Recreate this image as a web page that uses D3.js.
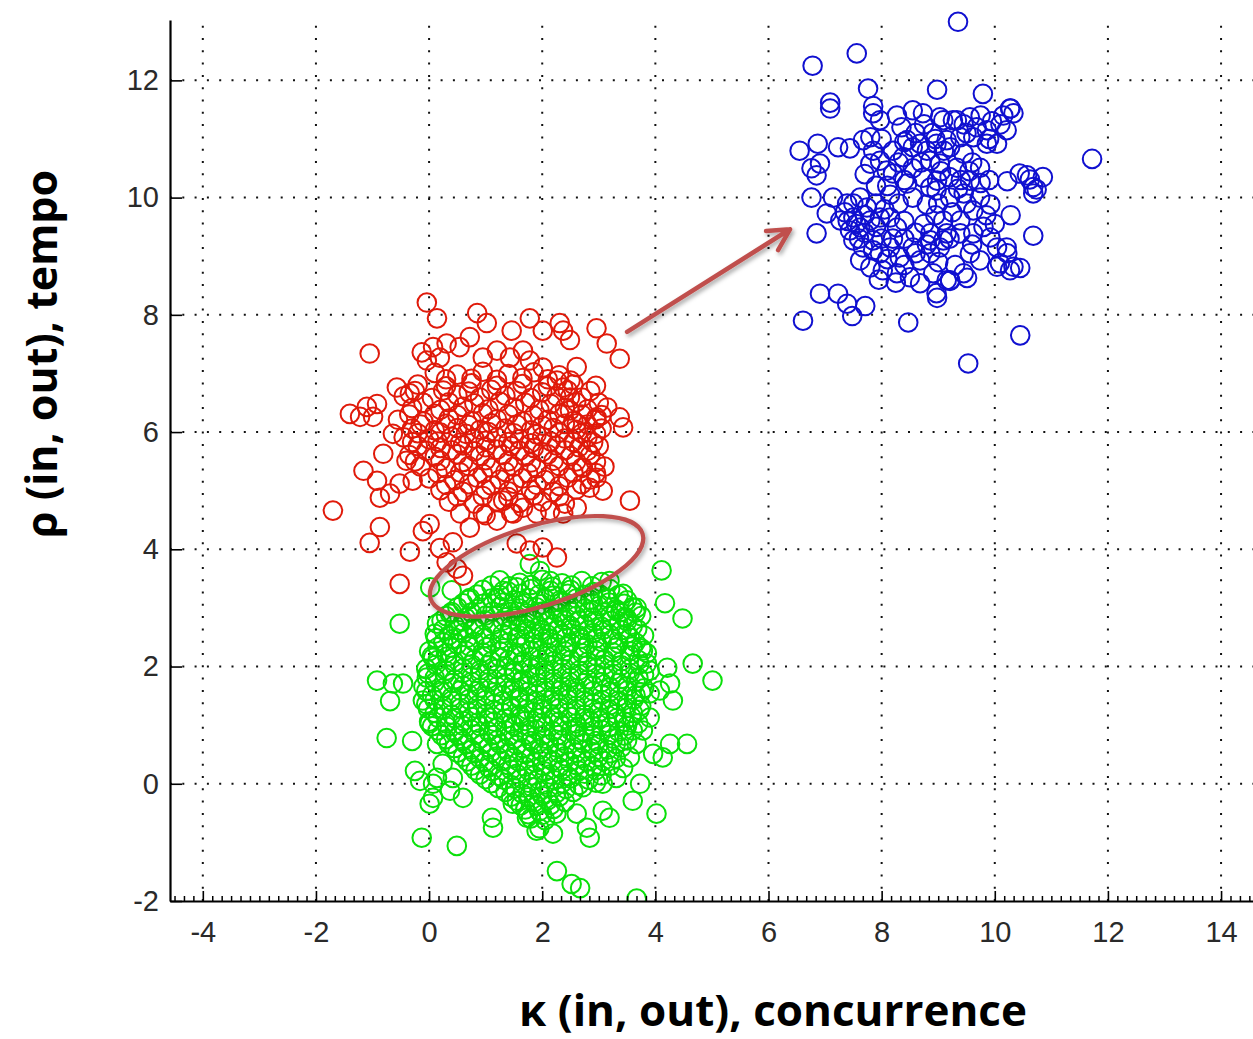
<!DOCTYPE html>
<html><head><meta charset="utf-8">
<script src="https://cdn.jsdelivr.net/npm/d3@7"></script>
<style>html,body{margin:0;padding:0;background:#fff;} svg{display:block;}</style>
</head><body>
<svg id="chart" width="1253" height="1039"></svg>
<script>
const xTicks = [-4,-2,0,2,4,6,8,10,12,14];
const xTickLabels = ["-4","-2","0","2","4","6","8","10","12","14"];
const yTicks = [-2,0,2,4,6,8,10,12];
const yTickLabels = ["-2","0","2","4","6","8","10","12"];
const xTitle = "κ (in, out), concurrence";
const yTitle = "ρ (in, out), tempo";

const greenPoints = [
[1.25,3.47],[1.6,3.43],[2.0,3.48],[2.35,3.42],[2.7,3.46],[3.05,3.44],
[0.95,3.31],[1.4,3.28],[1.8,3.32],[2.15,3.29],[2.5,3.31],[2.9,3.27],[3.2,3.32],
[0.7,3.14],[1.1,3.16],[1.5,3.13],[1.75,3.17],[2.05,3.15],[2.3,3.12],[2.6,3.16],[2.85,3.14],[3.15,3.17],[3.5,3.13],
[0.5,3.01],[0.85,2.98],[1.25,3.02],[1.6,2.99],[1.9,3.01],[2.2,2.97],[2.45,3.02],[2.75,2.99],[3.0,3.03],[3.3,2.98],[3.6,3.01],
[0.3,2.86],[0.65,2.83],[1.0,2.87],[1.35,2.84],[1.55,2.86],[1.8,2.83],[2.05,2.87],[2.35,2.84],[2.6,2.86],[2.9,2.83],[3.2,2.87],[3.45,2.84],[3.75,2.86],
[0.45,2.71],[0.8,2.68],[1.15,2.72],[1.45,2.69],[1.7,2.71],[1.95,2.68],[2.2,2.72],[2.5,2.69],[2.75,2.71],[3.05,2.68],[3.35,2.72],[3.6,2.69],
[0.1,2.56],[0.35,2.53],[0.6,2.57],[0.95,2.54],[1.3,2.56],[1.6,2.53],[1.85,2.57],[2.1,2.54],[2.35,2.56],[2.65,2.53],[2.9,2.57],[3.2,2.54],[3.5,2.56],[3.8,2.53],
[0.25,2.41],[0.5,2.38],[0.8,2.42],[1.1,2.39],[1.4,2.41],[1.7,2.38],[2.0,2.42],[2.25,2.39],[2.5,2.41],[2.8,2.38],[3.05,2.42],[3.35,2.39],[3.65,2.41],
[0.0,2.26],[0.3,2.23],[0.65,2.27],[0.95,2.24],[1.25,2.26],[1.55,2.23],[1.8,2.27],[2.1,2.24],[2.4,2.26],[2.7,2.23],[2.95,2.27],[3.25,2.24],[3.55,2.26],[3.85,2.23],
[0.15,2.11],[0.45,2.08],[0.8,2.12],[1.1,2.09],[1.4,2.11],[1.65,2.08],[1.95,2.12],[2.2,2.09],[2.5,2.11],[2.8,2.08],[3.1,2.12],[3.4,2.09],[3.7,2.11],
[-0.05,1.96],[0.3,1.93],[0.6,1.97],[0.9,1.94],[1.2,1.96],[1.5,1.93],[1.8,1.97],[2.05,1.94],[2.35,1.96],[2.65,1.93],[2.95,1.97],[3.25,1.94],[3.55,1.96],[3.9,1.93],
[0.1,1.81],[0.45,1.78],[0.75,1.82],[1.05,1.79],[1.35,1.81],[1.65,1.78],[1.9,1.82],[2.2,1.79],[2.5,1.81],[2.8,1.78],[3.1,1.82],[3.4,1.79],[3.7,1.81],
[-0.1,1.66],[0.25,1.63],[0.6,1.67],[0.9,1.64],[1.2,1.66],[1.5,1.63],[1.75,1.67],[2.05,1.64],[2.35,1.66],[2.6,1.63],[2.9,1.67],[3.2,1.64],[3.5,1.66],[3.8,1.63],
[0.05,1.51],[0.4,1.48],[0.7,1.52],[1.0,1.49],[1.3,1.51],[1.6,1.48],[1.9,1.52],[2.2,1.49],[2.45,1.51],[2.75,1.48],[3.05,1.52],[3.35,1.49],[3.65,1.51],
[-0.05,1.36],[0.25,1.33],[0.55,1.37],[0.85,1.34],[1.15,1.36],[1.45,1.33],[1.75,1.37],[2.0,1.34],[2.3,1.36],[2.6,1.33],[2.9,1.37],[3.2,1.34],[3.5,1.36],[3.75,1.33],
[0.1,1.21],[0.4,1.18],[0.7,1.22],[1.0,1.19],[1.3,1.21],[1.6,1.18],[1.85,1.22],[2.15,1.19],[2.45,1.21],[2.75,1.18],[3.0,1.22],[3.3,1.19],[3.6,1.21],
[0.0,1.06],[0.3,1.03],[0.6,1.07],[0.85,1.04],[1.15,1.06],[1.45,1.03],[1.7,1.07],[2.0,1.04],[2.3,1.06],[2.6,1.03],[2.85,1.07],[3.15,1.04],[3.45,1.06],[3.7,1.03],
[0.15,0.91],[0.45,0.88],[0.75,0.92],[1.05,0.89],[1.35,0.91],[1.6,0.88],[1.9,0.92],[2.2,0.89],[2.5,0.91],[2.75,0.88],[3.05,0.92],[3.35,0.89],[3.6,0.91],
[0.3,0.76],[0.6,0.73],[0.9,0.77],[1.2,0.74],[1.5,0.76],[1.8,0.73],[2.05,0.77],[2.35,0.74],[2.65,0.76],[2.95,0.73],[3.25,0.77],[3.5,0.74],
[0.45,0.61],[0.75,0.58],[1.05,0.62],[1.35,0.59],[1.65,0.61],[1.95,0.58],[2.25,0.62],[2.55,0.59],[2.85,0.61],[3.15,0.58],[3.4,0.62],
[0.6,0.46],[0.9,0.43],[1.2,0.47],[1.5,0.44],[1.8,0.46],[2.1,0.43],[2.4,0.47],[2.7,0.44],[3.0,0.46],[3.3,0.43],
[0.75,0.31],[1.05,0.28],[1.4,0.32],[1.7,0.29],[2.0,0.31],[2.3,0.28],[2.6,0.32],[2.9,0.29],[3.2,0.31],
[0.9,0.16],[1.25,0.13],[1.55,0.17],[1.85,0.14],[2.15,0.16],[2.45,0.13],[2.75,0.17],[3.05,0.14],
[1.1,0.01],[1.45,-0.02],[1.75,0.02],[2.05,-0.01],[2.35,0.01],[2.65,-0.02],[2.95,0.02],
[1.35,-0.14],[1.65,-0.17],[1.95,-0.13],[2.25,-0.16],[2.55,-0.14],
[1.55,-0.29],[1.85,-0.32],[2.1,-0.28],[2.4,-0.31],
[1.7,-0.44],[1.95,-0.47],[2.2,-0.43],
[1.8,-0.59],[2.05,-0.62],[1.95,-0.76],
[1.1,3.38],[1.42,3.37],[1.8,3.39],[2.18,3.36],[2.52,3.38],[2.88,3.37],
[0.85,3.23],[1.25,3.22],[1.62,3.24],[1.95,3.23],[2.2,3.21],[2.45,3.24],[2.75,3.22],[3.02,3.23],[3.35,3.22],
[0.6,3.08],[0.95,3.07],[1.32,3.09],[1.68,3.08],[1.98,3.06],[2.33,3.09],[2.62,3.07],[2.9,3.08],[3.18,3.09],[3.45,3.07],
[0.4,2.93],[0.75,2.92],[1.12,2.94],[1.45,2.93],[1.72,2.91],[2.0,2.94],[2.28,2.92],[2.52,2.93],[2.82,2.94],[3.1,2.92],[3.38,2.93],[3.65,2.92],
[0.22,2.78],[0.6,2.77],[0.98,2.79],[1.3,2.78],[1.58,2.76],[1.85,2.79],[2.12,2.77],[2.4,2.78],[2.65,2.79],[2.92,2.77],[3.22,2.78],[3.5,2.77],
[0.25,2.63],[0.52,2.62],[0.8,2.64],[1.12,2.63],[1.42,2.61],[1.72,2.64],[1.98,2.62],[2.28,2.63],[2.52,2.64],[2.8,2.62],[3.08,2.63],[3.4,2.62],[3.68,2.64],
[0.12,2.48],[0.42,2.47],[0.68,2.49],[0.98,2.48],[1.25,2.46],[1.55,2.49],[1.85,2.47],[2.12,2.48],[2.42,2.49],[2.68,2.47],[2.95,2.48],[3.25,2.47],[3.55,2.49],
[0.15,2.33],[0.4,2.32],[0.72,2.34],[1.02,2.33],[1.32,2.31],[1.62,2.34],[1.92,2.32],[2.18,2.33],[2.45,2.34],[2.75,2.32],[3.0,2.33],[3.3,2.32],[3.6,2.34],[3.75,2.31],
[0.05,2.18],[0.32,2.17],[0.62,2.19],[0.95,2.18],[1.25,2.16],[1.52,2.19],[1.8,2.17],[2.08,2.18],[2.35,2.19],[2.65,2.17],[2.95,2.18],[3.25,2.17],[3.55,2.19],
[0.12,2.03],[0.45,2.02],[0.75,2.04],[1.05,2.03],[1.35,2.01],[1.65,2.04],[1.92,2.02],[2.2,2.03],[2.5,2.04],[2.8,2.02],[3.1,2.03],[3.4,2.02],[3.72,2.04],
[-0.02,1.88],[0.28,1.87],[0.6,1.89],[0.9,1.88],[1.2,1.86],[1.5,1.89],[1.78,1.87],[2.05,1.88],[2.35,1.89],[2.65,1.87],[2.95,1.88],[3.25,1.87],[3.55,1.89],[3.8,1.86],
[0.1,1.73],[0.42,1.72],[0.75,1.74],[1.05,1.73],[1.35,1.71],[1.62,1.74],[1.92,1.72],[2.2,1.73],[2.48,1.74],[2.75,1.72],[3.05,1.73],[3.35,1.72],[3.65,1.74],
[-0.05,1.58],[0.22,1.57],[0.55,1.59],[0.85,1.58],[1.15,1.56],[1.45,1.59],[1.75,1.57],[2.05,1.58],[2.32,1.59],[2.6,1.57],[2.9,1.58],[3.2,1.57],[3.5,1.59],[3.75,1.56],
[0.1,1.43],[0.4,1.42],[0.7,1.44],[1.0,1.43],[1.3,1.41],[1.6,1.44],[1.88,1.42],[2.15,1.43],[2.45,1.44],[2.75,1.42],[3.05,1.43],[3.35,1.42],[3.62,1.44],
[-0.02,1.28],[0.25,1.27],[0.55,1.29],[0.85,1.28],[1.15,1.26],[1.45,1.29],[1.72,1.27],[2.0,1.28],[2.3,1.29],[2.6,1.27],[2.9,1.28],[3.18,1.27],[3.48,1.29],[3.72,1.26],
[0.15,1.13],[0.45,1.12],[0.75,1.14],[1.05,1.13],[1.35,1.11],[1.62,1.14],[1.9,1.12],[2.2,1.13],[2.5,1.14],[2.75,1.12],[3.02,1.13],[3.32,1.12],[3.58,1.14],
[0.05,0.98],[0.32,0.97],[0.6,0.99],[0.9,0.98],[1.2,0.96],[1.5,0.99],[1.78,0.97],[2.05,0.98],[2.35,0.99],[2.62,0.97],[2.9,0.98],[3.2,0.97],[3.5,0.99],
[0.22,0.83],[0.52,0.82],[0.82,0.84],[1.12,0.83],[1.42,0.81],[1.72,0.84],[2.0,0.82],[2.28,0.83],[2.58,0.84],[2.88,0.82],[3.18,0.83],[3.45,0.82],
[0.35,0.68],[0.65,0.67],[0.95,0.69],[1.25,0.68],[1.55,0.66],[1.85,0.69],[2.12,0.67],[2.42,0.68],[2.72,0.69],[3.0,0.67],[3.3,0.68],
[0.5,0.53],[0.8,0.52],[1.1,0.54],[1.4,0.53],[1.7,0.51],[2.0,0.54],[2.3,0.52],[2.6,0.53],[2.9,0.54],[3.2,0.52],
[0.68,0.38],[0.98,0.37],[1.28,0.39],[1.58,0.38],[1.88,0.36],[2.18,0.39],[2.48,0.37],[2.78,0.38],[3.08,0.39],
[0.82,0.23],[1.12,0.22],[1.45,0.24],[1.75,0.23],[2.05,0.21],[2.35,0.24],[2.65,0.22],[2.95,0.23],
[1.0,0.08],[1.32,0.07],[1.62,0.09],[1.92,0.08],[2.22,0.06],[2.5,0.09],[2.82,0.07],
[1.22,-0.07],[1.52,-0.08],[1.82,-0.06],[2.12,-0.07],[2.42,-0.09],[2.72,-0.06],
[1.45,-0.22],[1.75,-0.23],[2.0,-0.21],[2.3,-0.22],
[1.62,-0.37],[1.9,-0.38],[2.15,-0.36],
[1.75,-0.52],[2.0,-0.53],[2.25,-0.51],
[4.11,3.64],[4.17,3.08],[4.48,2.82],[-0.52,2.73],[-0.92,1.76],[-0.64,1.71],[-0.46,1.71],[-0.69,1.41],[4.66,2.05],[5.01,1.76],
[4.21,1.98],[4.26,1.71],[4.31,1.42],[4.08,1.59],[3.90,1.54],[-0.75,0.78],[-0.30,0.73],[4.56,0.68],[4.26,0.68],[4.13,0.45],
[3.96,0.51],[-0.25,0.22],[-0.16,0.05],[0.01,-0.34],[0.07,-0.24],[4.02,-0.51],[-0.13,-0.92],[0.49,-1.06],[1.11,-0.58],[1.13,-0.75],
[1.48,-0.34],[1.73,-0.58],[1.90,-0.80],[2.19,-0.85],[2.26,-1.49],[2.52,-1.71],[2.67,-1.78],[3.67,-1.96],[2.61,-0.51],[2.79,-0.75],
[2.84,-0.92],[3.07,-0.46],[3.19,-0.58],[3.60,-0.29],[3.73,0.0],[0.60,-0.24],[0.37,-0.12],[0.07,0.0],[0.14,0.10],[1.31,3.29],
[1.55,3.35],[1.20,3.17],[0.72,3.17],[3.19,3.46],[3.43,3.24],[3.67,3.0],[3.49,2.83],[3.31,2.95],[1.78,3.75],[1.96,3.63],
[2.14,3.46],[0.37,2.90],[0.14,2.73],[0.07,2.15],[-0.04,1.81],[-0.11,1.42],[0.01,1.03],[0.14,0.68],[0.24,0.34],[0.42,0.10],
[3.78,2.27],[3.85,2.05],[3.90,1.13],[3.78,0.91],[3.67,0.68],[3.55,0.45],[3.31,0.10],[3.07,0.0],[3.43,0.27],[0.02,3.35],[0.4,3.3]
];

const redPoints = [
[0.1,7.01],[0.5,6.98],[0.95,7.03],[1.4,6.99],[1.85,7.02],[2.3,6.97],
[-0.2,6.81],[0.3,6.78],[0.75,6.83],[1.2,6.79],[1.65,6.82],[2.1,6.78],[2.55,6.81],[2.95,6.79],
[-0.45,6.61],[0.05,6.58],[0.5,6.63],[0.9,6.59],[1.35,6.62],[1.8,6.58],[2.25,6.61],[2.7,6.59],
[-0.3,6.41],[0.2,6.38],[0.6,6.43],[1.05,6.39],[1.5,6.42],[1.95,6.38],[2.4,6.41],[2.8,6.39],[3.15,6.42],
[-0.55,6.21],[-0.1,6.18],[0.35,6.23],[0.75,6.19],[1.2,6.22],[1.65,6.18],[2.1,6.21],[2.55,6.19],[2.95,6.22],
[-0.3,6.06],[0.1,6.03],[0.5,6.07],[0.9,6.04],[1.35,6.06],[1.8,6.03],[2.2,6.07],[2.6,6.04],[3.05,6.06],
[-0.45,5.91],[0.0,5.88],[0.4,5.92],[0.8,5.89],[1.2,5.91],[1.6,5.88],[2.0,5.92],[2.4,5.89],[2.8,5.91],
[-0.2,5.76],[0.2,5.73],[0.6,5.77],[1.0,5.74],[1.45,5.76],[1.85,5.73],[2.25,5.77],[2.65,5.74],[3.0,5.76],
[-0.35,5.61],[0.1,5.58],[0.5,5.62],[0.9,5.59],[1.3,5.61],[1.7,5.58],[2.1,5.62],[2.5,5.59],[2.85,5.61],
[-0.15,5.41],[0.3,5.38],[0.7,5.42],[1.1,5.39],[1.5,5.41],[1.9,5.38],[2.3,5.42],[2.7,5.39],[3.1,5.41],
[0.0,5.21],[0.45,5.18],[0.85,5.22],[1.25,5.19],[1.65,5.21],[2.05,5.18],[2.45,5.22],[2.85,5.19],
[0.2,5.01],[0.6,4.98],[1.0,5.02],[1.4,4.99],[1.8,5.01],[2.2,4.98],[2.6,5.02],
[0.35,4.81],[0.8,4.78],[1.2,4.82],[1.6,4.79],[2.0,4.81],[2.4,4.78],
[0.55,4.61],[1.0,4.58],[1.45,4.62],
[0.3,6.9],[0.75,6.91],[1.2,6.89],[1.65,6.92],[2.1,6.9],[2.5,6.88],
[-0.25,6.7],[0.25,6.71],[0.7,6.69],[1.1,6.72],[1.55,6.7],[2.0,6.68],[2.45,6.71],[2.85,6.7],
[-0.1,6.5],[0.35,6.51],[0.8,6.49],[1.25,6.52],[1.7,6.5],[2.15,6.48],[2.6,6.51],[3.0,6.5],
[-0.35,6.3],[0.1,6.31],[0.5,6.29],[0.95,6.32],[1.4,6.3],[1.85,6.28],[2.3,6.31],[2.7,6.3],[3.05,6.29],
[-0.15,6.13],[0.3,6.14],[0.7,6.12],[1.1,6.15],[1.55,6.13],[2.0,6.11],[2.4,6.14],[2.8,6.13],
[-0.2,5.98],[0.2,5.99],[0.65,5.97],[1.05,6.0],[1.5,5.98],[1.9,5.96],[2.3,5.99],[2.7,5.98],[2.95,5.97],
[-0.3,5.83],[0.15,5.84],[0.55,5.82],[1.0,5.85],[1.4,5.83],[1.8,5.81],[2.15,5.84],[2.55,5.83],[2.9,5.82],
[-0.05,5.68],[0.4,5.69],[0.8,5.67],[1.2,5.7],[1.6,5.68],[2.0,5.66],[2.4,5.69],[2.8,5.68],
[-0.25,5.5],[0.2,5.51],[0.6,5.49],[1.0,5.52],[1.4,5.5],[1.8,5.48],[2.2,5.51],[2.6,5.5],[2.95,5.49],
[0.15,5.3],[0.55,5.31],[0.95,5.29],[1.35,5.32],[1.75,5.3],[2.15,5.28],[2.55,5.31],[2.95,5.3],
[0.3,5.1],[0.7,5.11],[1.1,5.09],[1.5,5.12],[1.9,5.1],[2.3,5.08],[2.7,5.11],
[0.5,4.9],[0.95,4.91],[1.4,4.89],[1.85,4.92],[2.3,4.9],
[-0.04,8.21],[0.14,7.94],[-1.05,7.34],[0.85,8.03],[1.02,7.86],[1.46,7.73],[1.78,7.94],[2.01,7.73],[2.31,7.86],[2.49,7.57],
[2.37,7.73],[2.96,7.77],[3.14,7.51],[3.37,7.25],[2.61,7.11],[-0.13,7.36],[0.07,7.45],[0.31,7.51],[0.54,7.45],[0.72,7.62],
[-0.04,7.22],[0.19,7.27],[0.95,7.27],[1.20,7.39],[1.43,7.27],[1.66,7.39],[1.78,7.22],[2.01,7.10],[2.26,6.88],[2.37,6.76],
[2.49,6.59],[-0.57,6.76],[-0.34,6.66],[-1.40,6.31],[-1.10,6.43],[-0.92,6.48],[-0.99,6.26],[-1.22,6.26],[2.96,6.25],[3.37,6.25],
[3.43,6.08],[2.49,6.37],[2.61,6.15],[-0.81,5.63],[-1.16,5.34],[-0.92,5.17],[-0.69,4.95],[-0.87,4.88],[-0.29,5.17],[-0.52,5.12],
[-0.40,5.51],[-0.64,5.97],[-1.70,4.66],[-0.87,4.38],[-1.05,4.11],[-0.52,3.41],[-0.34,3.96],[-0.11,4.31],[0.01,4.43],[0.19,4.02],
[0.42,4.12],[0.31,3.78],[0.49,3.67],[0.60,3.55],[0.72,4.37],[0.95,4.61],[1.20,4.49],[1.31,4.83],[1.49,4.61],[1.66,4.71],
[1.90,4.61],[2.14,4.66],[2.37,4.61],[2.61,4.71],[2.84,5.05],[2.96,5.22],[2.72,5.39],[3.55,4.83],[1.55,4.10],[1.78,3.98],
[2.01,4.03],[2.26,3.86],[3.07,5.0]
];

const bluePoints = [
[9.35,13.0],[7.56,12.46],[6.78,12.25],[7.76,11.86],[8.98,11.84],[9.79,11.77],[7.09,11.62],[7.09,11.52],[7.85,11.56],[10.28,11.52],
[6.55,10.80],[6.87,10.92],[7.23,10.86],[6.76,10.50],[6.91,10.58],[11.72,10.66],[10.22,10.28],[10.57,10.38],[10.85,10.35],[10.68,10.18],
[6.76,10.0],[6.85,9.39],[10.28,9.70],[10.68,9.35],[10.22,9.05],[10.33,8.82],[10.45,8.80],[10.04,8.82],
[6.91,8.36],[7.23,8.36],[7.39,8.19],[7.71,8.15],[7.48,7.98],[6.61,7.90],[8.47,7.87],[10.45,7.65],[9.53,7.17],[8.98,8.29],[9.21,8.58],[9.51,8.63],
[7.85,11.44],[7.97,11.32],[8.27,11.40],[8.55,11.49],[8.73,11.44],[9.03,11.37],[9.26,11.32],
[7.44,10.84],[7.67,10.98],[6.85,10.38],
[7.80,11.03],[7.85,10.80],[7.97,10.63],[7.80,10.58],[8.09,10.46],
[8.45,10.98],[8.55,10.86],[8.68,10.92],[8.80,10.80],[8.38,10.69],[8.86,10.63],[9.15,10.98],
[8.20,10.41],[8.45,10.24],[8.73,10.34],[8.86,10.17],[8.98,10.29],[8.55,10.0],[8.80,9.88],
[7.14,10.0],[7.03,9.73],[7.39,9.90],[7.50,9.66],[7.62,10.0],[7.74,9.83],
[7.27,9.61],[7.44,9.44],[7.62,9.49],[7.80,9.61],[7.97,9.66],[8.15,9.66],[8.27,9.49],
[7.50,9.27],[7.67,9.15],[7.85,9.27],[7.97,9.05],[8.15,9.15],[8.32,8.98],[8.55,9.15],[8.68,8.93],[8.86,9.27],[9.03,9.15],[9.15,9.39],
[7.62,8.93],[7.80,8.81],[8.02,8.76],[8.27,8.71],[8.50,8.64],[8.68,8.54],[8.91,8.71],[9.15,8.59],
[10.27,11.52],[10.15,11.40],[10.33,11.44],
[9.09,11.32],[9.33,11.32],[9.56,11.37],[9.68,11.20],[9.86,11.15],[9.62,11.03],[10.04,10.92],[10.21,11.15],[9.86,10.92],[9.39,11.03],
[8.97,10.92],[9.21,10.86],[9.45,10.75],
[10.44,10.41],[10.62,10.31],[10.74,10.14],[10.68,10.07],
[9.03,10.58],[9.33,10.51],[9.74,10.51],[9.56,10.29],[9.45,10.07],[9.74,10.0],[9.92,9.88],[9.62,9.78],[9.21,10.0],[8.97,10.12],[9.09,9.61],[9.39,9.61],
[8.86,9.39],[9.09,9.27],[9.39,9.39],[9.62,9.39],[9.92,9.32],[10.04,9.15],[9.56,9.05],[9.74,8.93],[9.45,8.71],[9.21,8.59],[8.97,8.37],[8.86,9.05],
[10.21,9.15],[10.09,8.88],[10.27,8.76],
[8.3,9.9],[8.4,9.6],[8.1,10.2],[9.0,9.9],[9.2,9.3],[9.4,10.3],[8.6,9.4],[8.0,9.3],[7.7,9.4],[7.5,9.9],[7.4,9.6],[7.9,9.9],[8.2,9.3],
[8.8,9.2],[9.6,10.6],[9.9,10.3],[9.8,9.5],[9.6,9.2],[8.7,10.6],[8.4,10.3],[9.1,10.8],[9.5,11.1],[9.9,11.0],[8.9,11.1],[8.2,10.8],[8.0,11.0],
[7.35,9.75],[7.55,9.55],[7.7,9.7],[7.9,9.5],[8.05,9.8],[7.6,9.3],[7.85,9.1],[8.1,8.95],[8.4,9.3],[8.6,9.05],
[8.4,8.85],[8.75,9.55],[8.95,9.7],[9.25,9.75],[9.5,9.9],[9.35,10.15],[9.55,10.45],[9.75,10.25],[9.2,10.35],[9.05,10.45],
[8.4,10.95],[8.6,11.1],[8.75,11.25],[8.35,11.2],[8.95,11.0],[9.75,11.4],[9.95,11.3],[10.1,11.25],[9.45,11.25],[8.15,10.05],
[8.3,10.6],[8.55,10.5],[7.9,10.2],[7.7,10.4],[9.85,9.7],[10.0,9.55],[9.3,8.85],[9.0,8.9],[7.95,8.6],[8.25,8.55]
];

const arrowFrom = [3.5, 7.71];
const arrowTo = [6.38, 9.46];
const ellipseCenter = [1.90, 3.71];
const ellipseRadii = [1.96, 0.71];   // in x-units
const ellipseAngle = -17;

const W = 1253, H = 1039;
const x = d3.scaleLinear().domain([-4.58, 14.6]).range([170, 1255]);
const y = d3.scaleLinear().domain([-2, 13.03]).range([901, 20]);

const svg = d3.select("#chart");
const defs = svg.append("defs");
defs.append("clipPath").attr("id", "plot").append("rect")
  .attr("x", 170).attr("y", 0).attr("width", W - 170).attr("height", 901);
const f = defs.append("filter").attr("id", "shadow")
  .attr("x", "-20%").attr("y", "-20%").attr("width", "140%").attr("height", "140%");
f.append("feDropShadow").attr("dx", 2).attr("dy", 2.5).attr("stdDeviation", 2)
  .attr("flood-color", "#000").attr("flood-opacity", 0.35);

// grid
const grid = svg.append("g").attr("clip-path", "url(#plot)")
  .attr("stroke", "#111").attr("stroke-width", 2).attr("stroke-dasharray", "2,10.3");
grid.selectAll("line.v").data(xTicks).join("line").attr("class", "v")
  .attr("x1", d => x(d)).attr("x2", d => x(d)).attr("y1", y(-2)).attr("y2", y(13.03));
grid.selectAll("line.h").data(yTicks.slice(1)).join("line").attr("class", "h")
  .attr("y1", d => y(d)).attr("y2", d => y(d)).attr("x1", x(-4.58)).attr("x2", x(14.6));

// points
const pts = svg.append("g").attr("clip-path", "url(#plot)").attr("fill", "none");
const series = [
  {data: greenPoints, color: "#0ae00a"},
  {data: redPoints, color: "#e01a0a"},
  {data: bluePoints, color: "#1010d0"}
];
series.forEach(s => {
  pts.append("g").attr("stroke", s.color).attr("stroke-width", 2)
    .selectAll("circle").data(s.data).join("circle")
    .attr("cx", d => x(d[0])).attr("cy", d => y(d[1])).attr("r", 9.3);
});

// axes
const minorTicks = d3.range(-27, 88).filter(i => i % 12 !== 0).map(i => i / 6);
const xMinor = svg.append("g").attr("transform", `translate(0,${y(-2)})`)
  .call(d3.axisBottom(x).tickValues(minorTicks).tickSizeInner(-5).tickSizeOuter(0).tickFormat(""));
xMinor.select(".domain").remove();
xMinor.selectAll("line").attr("stroke", "#000").attr("stroke-width", 1.5);

const xAxis = svg.append("g").attr("transform", `translate(0,${y(-2)})`)
  .call(d3.axisBottom(x).tickValues(xTicks).tickFormat((d, i) => xTickLabels[i])
    .tickSizeInner(-10).tickSizeOuter(0).tickPadding(20));
const yAxis = svg.append("g").attr("transform", `translate(${x(-4.58)},0)`)
  .call(d3.axisLeft(y).tickValues(yTicks).tickFormat((d, i) => yTickLabels[i])
    .tickSizeInner(-12).tickSizeOuter(0).tickPadding(11));
[xAxis, yAxis].forEach(a => {
  a.select(".domain").attr("stroke", "#000").attr("stroke-width", 2.2);
  a.selectAll(".tick line").attr("stroke", "#000").attr("stroke-width", 1.6);
  a.selectAll(".tick text").attr("fill", "#2a2a2a")
    .style("font-family", "'Liberation Sans', Arial, sans-serif").style("font-size", "29px");
});

// titles
svg.append("text").attr("x", 773).attr("y", 1026).attr("text-anchor", "middle")
  .attr("textLength", 508).attr("lengthAdjust", "spacingAndGlyphs")
  .style("font-family", "'Open Sans', sans-serif").style("font-weight", 700).style("font-size", "43px")
  .attr("fill", "#000").text(xTitle);
svg.append("text").attr("transform", "translate(57,354) rotate(-90)").attr("text-anchor", "middle")
  .attr("textLength", 368).attr("lengthAdjust", "spacingAndGlyphs")
  .style("font-family", "'Open Sans', sans-serif").style("font-weight", 700).style("font-size", "43px")
  .attr("fill", "#000").text(yTitle);

// annotations
const anno = svg.append("g").attr("filter", "url(#shadow)").attr("stroke", "#c0504d").attr("fill", "none");
const cx = x(ellipseCenter[0]), cy = y(ellipseCenter[1]);
anno.append("ellipse").attr("cx", cx).attr("cy", cy)
  .attr("rx", x(ellipseCenter[0] + ellipseRadii[0]) - cx)
  .attr("ry", x(ellipseCenter[0] + ellipseRadii[1]) - cx)
  .attr("transform", `rotate(${ellipseAngle},${cx},${cy})`)
  .attr("stroke-width", 4.2);
const x0 = x(arrowFrom[0]), y0 = y(arrowFrom[1]), x1 = x(arrowTo[0]), y1 = y(arrowTo[1]);
const ang = Math.atan2(y1 - y0, x1 - x0), L = 24, sp = 28 * Math.PI / 180;
const a1 = [x1 - L * Math.cos(ang - sp), y1 - L * Math.sin(ang - sp)];
const a2 = [x1 - L * Math.cos(ang + sp), y1 - L * Math.sin(ang + sp)];
anno.append("path")
  .attr("d", `M${x0},${y0}L${x1},${y1}M${a1[0]},${a1[1]}L${x1},${y1}L${a2[0]},${a2[1]}`)
  .attr("stroke-width", 4.5).attr("stroke-linecap", "round").attr("stroke-linejoin", "round");
</script>
</body></html>
